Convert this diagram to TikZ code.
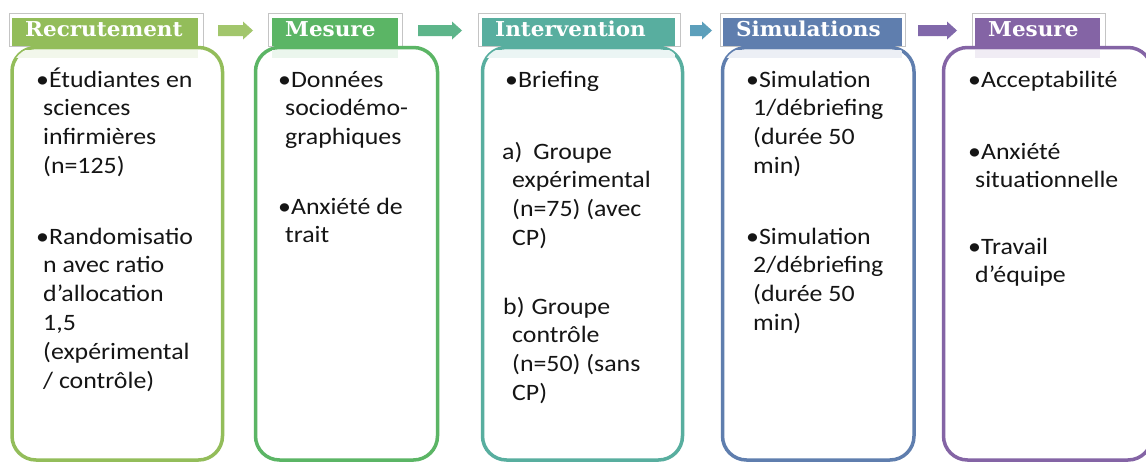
\documentclass[tikz,border=0pt]{standalone}
\usepackage{fontspec}
\newfontfamily\bodyfont{Carlito}[FakeStretch=1.1]
\newfontfamily\headfont{DejaVu Serif}[FakeStretch=1.05]
\usetikzlibrary{calc}
\definecolor{cA}{HTML}{93BD5A}
\definecolor{cB}{HTML}{5BB565}
\definecolor{cC}{HTML}{58AE9F}
\definecolor{cD}{HTML}{5F7EAE}
\definecolor{cE}{HTML}{8464A5}
\definecolor{aA}{HTML}{A2C66C}
\definecolor{aB}{HTML}{5DB58A}
\definecolor{aC}{HTML}{5C9FBB}
\definecolor{aD}{HTML}{8168AA}
\definecolor{txt}{HTML}{151515}
\definecolor{outl}{HTML}{C4C4C4}
\tikzset{
  hdroutline/.style={draw=outl, line width=0.9pt, fill=white},
  bodybox/.style={rounded corners=24pt, line width=3.5pt, fill=white},
  hdrtext/.style={anchor=base west, inner sep=0pt, text=white,
    font=\headfont\bfseries\fontsize{20.5}{24}\selectfont},
  para/.style={anchor=base west, inner sep=0pt, text=txt,
    font=\bodyfont\fontsize{23.5}{28.8}\selectfont},
}
\newcommand\stage[9]{%
  \draw[hdroutline] (#2,13) rectangle (#3,46);
  \draw[bodybox, draw=#1] (#6,47.5) rectangle (#7,460);
  \begin{scope}
    \clip[rounded corners=24pt] (#6,47.5) rectangle (#7,460);
    \fill[#1!12] (#4,49.5) rectangle (#5,58);
  \end{scope}
  \fill[#1] (#4,18) rectangle (#5,45.5);
  \node[hdrtext] (#8) at (#4+13,36.5) {#9};
}
\newcommand\blockarrow[3]{%
  \coordinate (#3s) at (#1,30.5);
  \coordinate (#3e) at (#2,30.5);
  \fill[#3] (#3s) ++(0,-5.5) -- ($(#3e)+(-10,-5.5)$) -- ($(#3e)+(-10,-9)$)
    -- (#3e) -- ($(#3e)+(-10,9)$) -- ($(#3e)+(-10,5.5)$) -- ($(#3s)+(0,5.5)$) -- cycle;
}
\begin{document}
\begin{tikzpicture}[x=1pt,y=-1pt]
\useasboundingbox (0,0) rectangle (1146,463);
\fill[white] (0,0) rectangle (1146,463);
\clip (0,0) rectangle (1146,463);

\stage{cA}{9}{203}{12}{198}{12}{222.5}{h1}{Recrutement}
\stage{cB}{268}{402}{272}{398}{255.5}{437.5}{h2}{Mesure}
\stage{cC}{478}{680}{482}{675}{482.5}{682.5}{h3}{Intervention}
\stage{cD}{720}{905}{723}{902}{722.5}{914}{h4}{Simulations}
\stage{cE}{972}{1105}{975}{1100}{943.5}{1152}{h5}{Mesure}

\blockarrow{218}{253}{aA}
\blockarrow{418}{462}{aB}
\blockarrow{690}{712}{aC}
\blockarrow{918}{957}{aD}

% Box 1
\node[para] (p11) at (43,87) {\begin{tabular}[t]{@{}l@{}}\hspace*{-7pt}•Étudiantes en\\ sciences\\ infirmières\\ (n=125)\end{tabular}};
\node[para] (p12) at (43,244) {\begin{tabular}[t]{@{}l@{}}\hspace*{-7pt}•Randomisatio\\ n avec ratio\\ d’allocation\\ 1,5\\ (expérimental\\ / contrôle)\end{tabular}};
% Box 2
\node[para] (p21) at (285,87) {\begin{tabular}[t]{@{}l@{}}\hspace*{-7pt}•Données\\ sociodémo-\\ graphiques\end{tabular}};
\node[para] (p22) at (285,214) {\begin{tabular}[t]{@{}l@{}}\hspace*{-7pt}•Anxiété de\\ trait\end{tabular}};
% Box 3
\node[para] (p31) at (512,87) {\begin{tabular}[t]{@{}l@{}}\hspace*{-7pt}•Briefing\end{tabular}};
\node[para] (p32) at (512,159) {\begin{tabular}[t]{@{}l@{}}\hspace*{-10pt}a)\hspace{11pt}Groupe\\ expérimental\\ (n=75) (avec\\ CP)\end{tabular}};
\node[para] (p33) at (512,314) {\begin{tabular}[t]{@{}l@{}}\hspace*{-9pt}b)\hspace{7pt}Groupe\\ contrôle\\ (n=50) (sans\\ CP)\end{tabular}};
% Box 4
\node[para] (p41) at (753,87) {\begin{tabular}[t]{@{}l@{}}\hspace*{-7pt}•Simulation\\ 1/débriefing\\ (durée 50\\ min)\end{tabular}};
\node[para] (p42) at (753,244) {\begin{tabular}[t]{@{}l@{}}\hspace*{-7pt}•Simulation\\ 2/débriefing\\ (durée 50\\ min)\end{tabular}};
% Box 5
\node[para] (p51) at (975,87) {\begin{tabular}[t]{@{}l@{}}\hspace*{-7pt}•Acceptabilité\end{tabular}};
\node[para] (p52) at (975,159) {\begin{tabular}[t]{@{}l@{}}\hspace*{-7pt}•Anxiété\\ situationnelle\end{tabular}};
\node[para] (p53) at (975,254) {\begin{tabular}[t]{@{}l@{}}\hspace*{-7pt}•Travail\\ d’équipe\end{tabular}};
\end{tikzpicture}
\end{document}
